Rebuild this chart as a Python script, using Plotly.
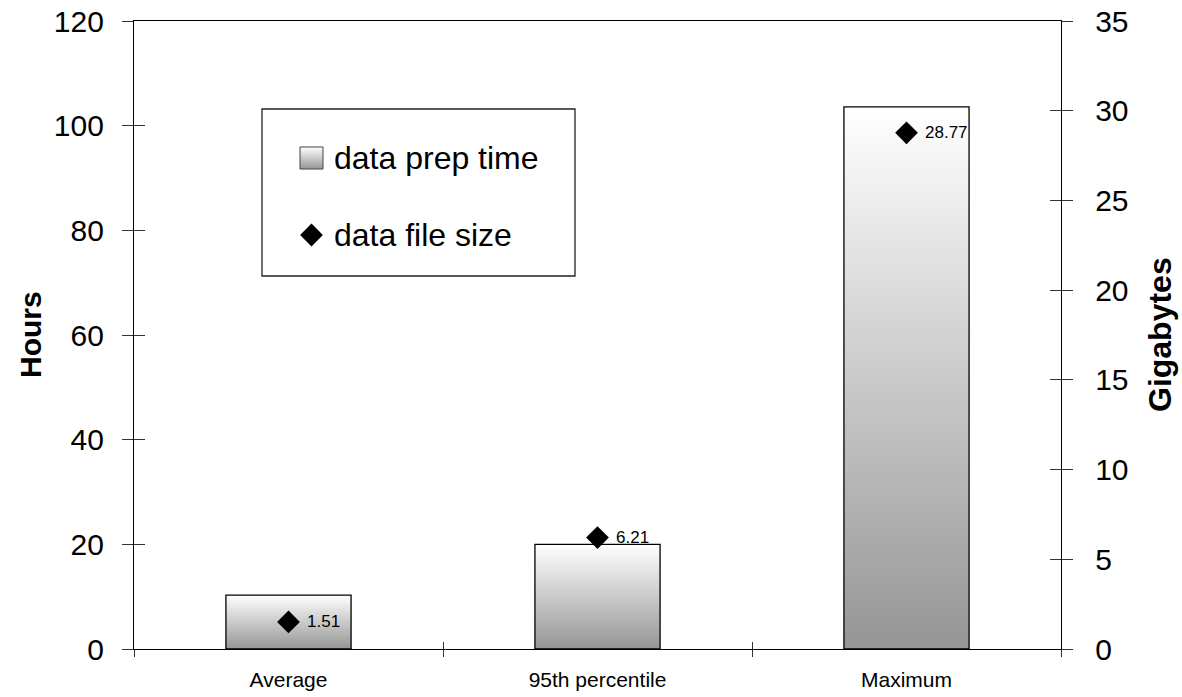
import plotly.graph_objects as go

# Data
categories = ["Average", "95th percentile", "Maximum"]
prep_hours = [10.3, 20.0, 103.6]        # data prep time (Hours, left axis)
file_size_gb = [1.51, 6.21, 28.77]      # data file size (Gigabytes, right axis)
hour_ticks = [0, 20, 40, 60, 80, 100, 120]
gb_ticks = [0, 5, 10, 15, 20, 25, 30, 35]

FONT = "Liberation Sans, Arial, sans-serif"
BAR_WIDTH = 0.405
GRADIENT = [[0, "#959595"], [1, "#ffffff"]]
W, H = 1182, 697
ML, MR, MT, MB = 134, 121, 21, 48
PX0, PX1 = ML, W - MR          # plot area, pixel columns
PY0, PY1 = MT, H - MB          # plot area, pixel rows

fig = go.Figure()

# Bars drawn as filled rectangles so they can carry a vertical gradient
for i, h in enumerate(prep_hours):
    x0, x1 = i - BAR_WIDTH / 2, i + BAR_WIDTH / 2
    fig.add_trace(go.Scatter(
        x=[x0, x0, x1, x1, x0], y=[0, h, h, 0, 0],
        mode="lines", fill="toself",
        fillgradient=dict(type="vertical", colorscale=GRADIENT, start=0, stop=h),
        line=dict(color="black", width=1.3),
        name="data prep time", showlegend=False, hoverinfo="skip",
        xaxis="x", yaxis="y",
    ))

# File size markers on the right axis
fig.add_trace(go.Scatter(
    x=list(range(len(categories))), y=file_size_gb,
    mode="markers",
    marker=dict(symbol="diamond", size=17.5, color="black"),
    name="data file size", showlegend=False,
    xaxis="x", yaxis="y2",
))
for i, v in enumerate(file_size_gb):
    fig.add_annotation(x=i, y=v, xref="x", yref="y2", text=f"{v:.2f}",
                       showarrow=False, xanchor="left", yanchor="middle", xshift=16,
                       font=dict(size=17, color="black", family=FONT))

# Empty traces that anchor the cross-tick overlay axes
for xa, ya in [("x4", "y4"), ("x5", "y5")]:
    fig.add_trace(go.Scatter(x=[None], y=[None], xaxis=xa, yaxis=ya,
                             showlegend=False, hoverinfo="skip"))

# Legend box, drawn in a pixel-space overlay (x3/y3)
LG_X0, LG_Y0, LG_X1, LG_Y1 = 262, 109, 575, 276
SW_X0, SW_X1 = 300, 323
ROW1_Y, ROW2_Y = 158, 235
fig.add_trace(go.Scatter(
    x=[SW_X0, SW_X0, SW_X1, SW_X1, SW_X0],
    y=[ROW1_Y + 11, ROW1_Y - 11, ROW1_Y - 11, ROW1_Y + 11, ROW1_Y + 11],
    mode="lines", fill="toself",
    fillgradient=dict(type="vertical", colorscale=GRADIENT,
                      start=ROW1_Y + 11, stop=ROW1_Y - 11),
    line=dict(color="#444", width=1),
    showlegend=False, hoverinfo="skip", xaxis="x3", yaxis="y3",
))
fig.add_trace(go.Scatter(
    x=[(SW_X0 + SW_X1) / 2], y=[ROW2_Y], mode="markers",
    marker=dict(symbol="diamond", size=17.5, color="black"),
    showlegend=False, hoverinfo="skip", xaxis="x3", yaxis="y3",
))
fig.add_shape(type="rect", xref="x3", yref="y3",
              x0=LG_X0, y0=LG_Y0, x1=LG_X1, y1=LG_Y1,
              line=dict(color="#222", width=1.3), fillcolor="rgba(0,0,0,0)")
for label, yy in [("data prep time", ROW1_Y), ("data file size", ROW2_Y)]:
    fig.add_annotation(x=332, y=yy, xref="x3", yref="y3", text=label,
                       showarrow=False, xanchor="left", yanchor="middle",
                       font=dict(size=32, color="black", family=FONT))

# Axis titles
plot_w, plot_h = PX1 - PX0, PY1 - PY0
fig.add_annotation(text="<b>Hours</b>", textangle=-90, showarrow=False,
                   xref="paper", yref="paper",
                   x=(30 - PX0) / plot_w, y=0.5, xanchor="center", yanchor="middle",
                   font=dict(size=30, color="black", family=FONT))
fig.add_annotation(text="<b>Gigabytes</b>", textangle=-90, showarrow=False,
                   xref="paper", yref="paper",
                   x=(1160 - PX0) / plot_w, y=0.5, xanchor="center", yanchor="middle",
                   font=dict(size=32, color="black", family=FONT))

axis_common = dict(showgrid=False, zeroline=False, fixedrange=True, automargin=False)
tick_style = dict(tickwidth=1.3, tickcolor="#333")
n = len(categories)
bounds = [i - 0.5 for i in range(n + 1)]

fig.update_layout(
    width=W, height=H,
    margin=dict(l=ML, r=MR, t=MT, b=MB, pad=0, autoexpand=False),
    plot_bgcolor="white", paper_bgcolor="white",
    showlegend=False,
    font=dict(family=FONT, color="black"),
    xaxis=dict(range=[-0.5, n - 0.5], tickvals=list(range(n)), ticktext=categories,
               ticks="", showline=True, linecolor="black", linewidth=1.3, mirror=True,
               tickfont=dict(size=21), ticklabelstandoff=12, **axis_common),
    xaxis4=dict(overlaying="x", range=[-0.5, n - 0.5], tickvals=bounds,
                ticks="outside", ticklen=7, showticklabels=False, showline=False,
                **tick_style, **axis_common),
    xaxis5=dict(overlaying="x", range=[-0.5, n - 0.5], tickvals=bounds,
                ticks="inside", ticklen=7, showticklabels=False, showline=False,
                **tick_style, **axis_common),
    yaxis=dict(range=[0, 120], tickvals=hour_ticks, ticks="outside", ticklen=11,
               showline=True, linecolor="black", linewidth=1.3,
               tickfont=dict(size=30), ticklabelstandoff=12,
               **tick_style, **axis_common),
    yaxis2=dict(overlaying="y", side="right", range=[0, 35], tickvals=gb_ticks,
                ticks="outside", ticklen=11, showline=True, linecolor="black",
                linewidth=1.3, tickfont=dict(size=30), ticklabelstandoff=16,
                **tick_style, **axis_common),
    yaxis4=dict(overlaying="y", side="left", range=[0, 120], tickvals=hour_ticks,
                ticks="inside", ticklen=11, showticklabels=False, showline=False,
                **tick_style, **axis_common),
    yaxis5=dict(overlaying="y", side="right", range=[0, 35], tickvals=gb_ticks,
                ticks="inside", ticklen=11, showticklabels=False, showline=False,
                **tick_style, **axis_common),
    xaxis3=dict(overlaying="x", range=[PX0, PX1], visible=False, **axis_common),
    yaxis3=dict(overlaying="y", range=[PY1, PY0], visible=False, **axis_common),
)

fig.write_html("out.html")
